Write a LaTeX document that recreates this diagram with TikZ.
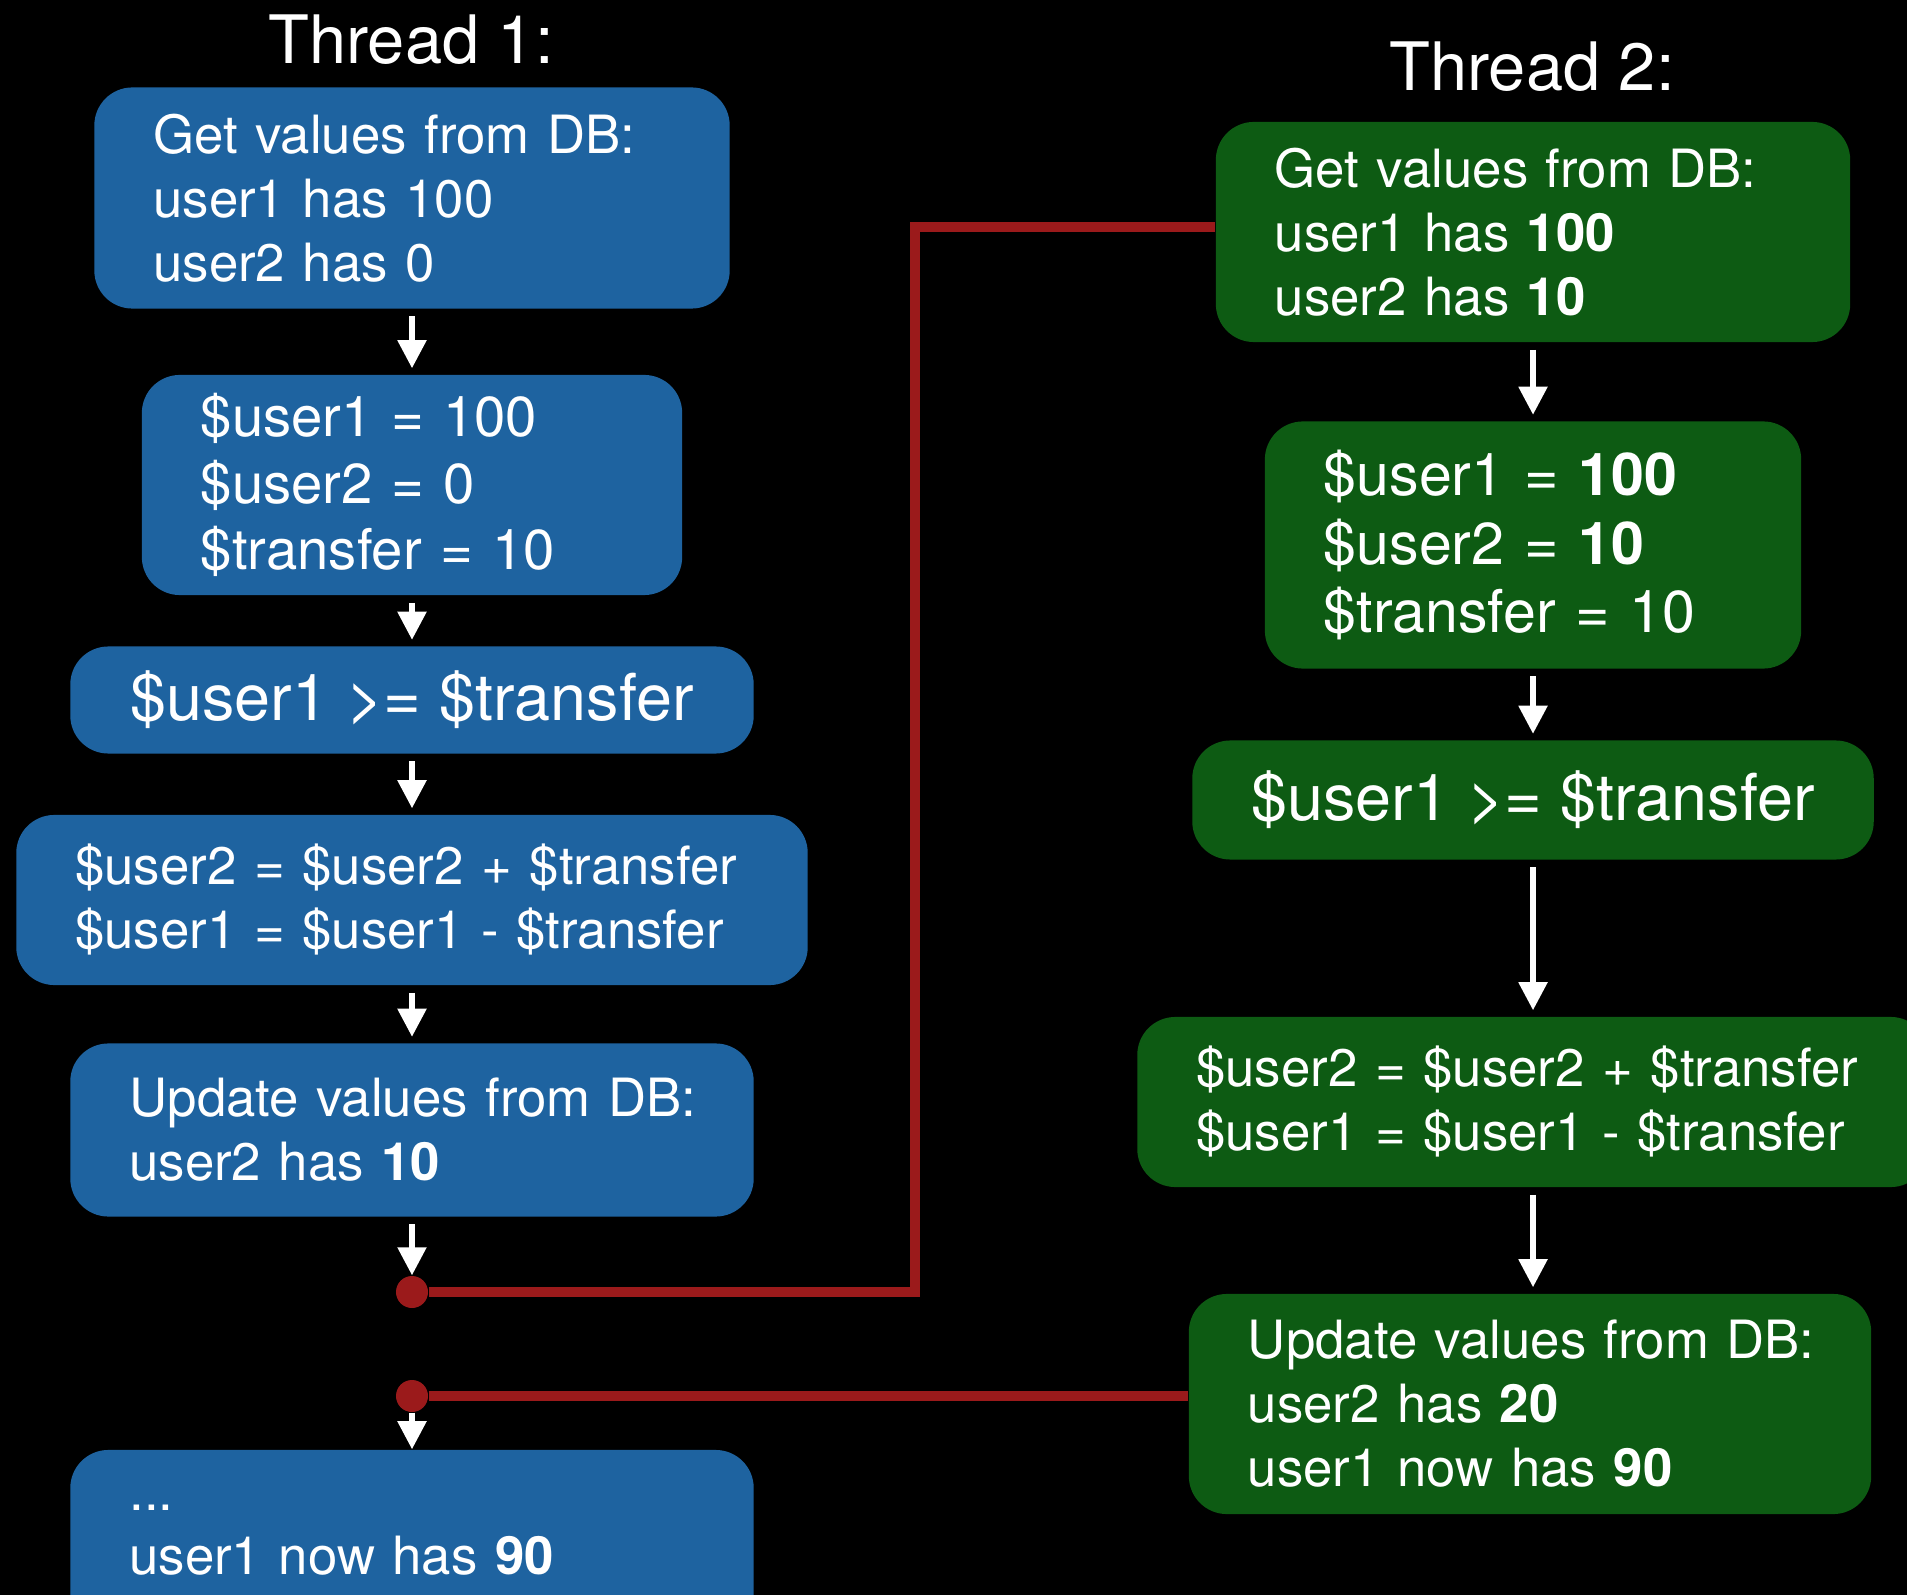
\documentclass[tikz,border=0pt]{standalone}
\usepackage{fontspec}
\setmainfont{TeX Gyre Heros}
\usetikzlibrary{arrows.meta,positioning}
\definecolor{threadblue}{RGB}{30,99,160}
\definecolor{threadgreen}{RGB}{13,91,19}
\definecolor{lockred}{RGB}{155,26,27}

\tikzset{
  panel/.style={rounded corners=0.38cm, text=white, inner xsep=0.59cm, inner ysep=0pt, align=left,
    font=\fontsize{15}{18.2}\selectfont},
  bluebox/.style={panel, fill=threadblue},
  greenbox/.style={panel, fill=threadgreen},
  vars/.style={font=\fontsize{16}{19}\selectfont},
  check/.style={align=center, font=\fontsize{18.4}{21}\selectfont},
  title/.style={text=white, font=\fontsize{19}{22}\selectfont},
  lockdot/.style={circle, fill=lockred, minimum size=0.32cm, inner sep=0pt},
  flow/.style={draw=white, line width=1.5pt, -{Triangle[length=0.28cm,width=0.28cm]},
    shorten <=0.07cm, shorten >=0.06cm},
  lockline/.style={draw=lockred, line width=2.6pt}
}

\begin{document}
\begin{tikzpicture}[x=0.01cm,y=-0.01cm]
    \fill[black] (0,0) rectangle (1907,1595);
    \useasboundingbox (0,0) rectangle (1907,1595);

    % Thread 1
    \node[title] (t1head) at (411,40) {Thread 1:};
    \node[bluebox, text width=5.17cm, minimum height=2.21cm] (t1get) at (412,198)
        {Get values from DB:\\user1 has 100\\user2 has 0};
    \node[bluebox, vars, text width=4.22cm, minimum height=2.2cm] (t1load) at (412,485)
        {\$user1 = 100\\\$user2 = 0\\\$transfer = 10};
    \node[bluebox, check, minimum width=6.83cm, minimum height=1.07cm] (t1check) at (412,700)
        {\$user1 >= \$transfer};
    \node[bluebox, text width=6.73cm, minimum height=1.7cm] (t1move) at (412,900)
        {\$user2 = \$user2 + \$transfer\\\$user1 = \$user1 - \$transfer};
    \node[bluebox, text width=5.65cm, minimum height=1.73cm] (t1save) at (412,1130)
        {\mbox{Update values from DB:}\\user2 has \textbf{10}};
    \node[lockdot] (t1wait) at (412,1292) {};
    \node[lockdot] (t1resume) at (412,1396) {};
    \node[bluebox, text width=5.65cm, minimum height=1.8cm] (t1end) at (412,1540)
        {...\\user1 now has \textbf{90}};

    % Thread 2
    \node[title] (t2head) at (1532,67) {Thread 2:};
    \node[greenbox, text width=5.16cm, minimum height=2.2cm] (t2get) at (1533,232)
        {Get values from DB:\\user1 has \textbf{100}\\user2 has \textbf{10}};
    \node[greenbox, vars, font=\fontsize{16.8}{19.6}\selectfont, text width=4.18cm, minimum height=2.47cm] (t2load) at (1533,545)
        {\$user1 = \textbf{100}\\\$user2 = \textbf{10}\\\$transfer = 10};
    \node[greenbox, check, minimum width=6.81cm, minimum height=1.19cm] (t2check) at (1533,800)
        {\$user1 >= \$transfer};
    \node[greenbox, text width=6.73cm, minimum height=1.7cm] (t2move) at (1533,1102)
        {\$user2 = \$user2 + \$transfer\\\$user1 = \$user1 - \$transfer};
    \node[greenbox, text width=5.64cm, minimum height=2.2cm] (t2save) at (1530,1404)
        {\mbox{Update values from DB:}\\user2 has \textbf{20}\\user1 now has \textbf{90}};

    % steps
    \foreach \a/\b in {t1get/t1load, t1load/t1check, t1check/t1move, t1move/t1save,
                       t2get/t2load, t2load/t2check, t2check/t2move, t2move/t2save}
        \draw[flow] (\a.south) -- (\a.south |- \b.north);
    \draw[flow, shorten >=0pt] (t1save) -- (t1wait);
    \draw[flow, shorten <=0pt, shorten >=0pt] (t1resume) -- (t1end);

    % lock lines
    \coordinate (bend) at (915,227);
    \draw[lockline] (t1wait) -| (bend) -- (bend -| t2get.west);
    \draw[lockline] (t1resume) -- (t1resume -| t2save.west);
\end{tikzpicture}
\end{document}
